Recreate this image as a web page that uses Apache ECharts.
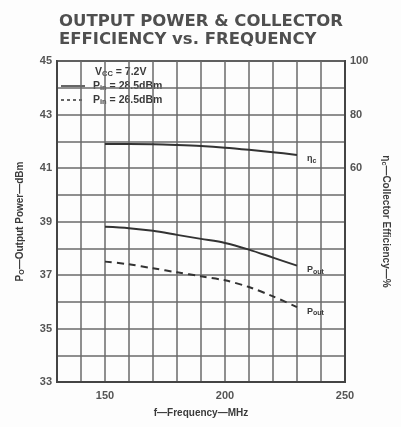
<!DOCTYPE html>
<html>
<head>
<meta charset="utf-8">
<script src="https://cdn.jsdelivr.net/npm/echarts@6/dist/echarts.min.js"></script>
<style>
  html, body { margin: 0; padding: 0; background: #fdfdfd; }
  #main { width: 401px; height: 427px; }
</style>
</head>
<body>
<div id="main"></div>
<script>
// frequency points, MHz
const freq = [150, 160, 170, 180, 190, 200, 210, 220, 230];
// output power at Pin = 28.5 dBm (solid), dBm
const poutHigh = [38.8, 38.75, 38.65, 38.5, 38.35, 38.2, 37.95, 37.65, 37.35];
// output power at Pin = 26.5 dBm (dashed), dBm
const poutLow = [37.5, 37.4, 37.25, 37.1, 36.95, 36.8, 36.55, 36.2, 35.8];
// collector efficiency, %
const effic = [69.0, 69.0, 68.9, 68.6, 68.2, 67.6, 66.8, 65.9, 64.9];

const xTickLabels = [150, 200, 250];
const leftTickLabels = [33, 35, 37, 39, 41, 43, 45];
const rightTickLabels = [60, 80, 100];

const ink = '#3a3a3a';
const gridInk = '#6a6a6a';
const font = 'Liberation Sans';

function pairs(ys) {
  return freq.map(function (f, i) { return [f, ys[i]]; });
}

const subRich = {
  sub: { fontSize: 7, verticalAlign: 'bottom', padding: [4, 0, 0, 0], color: ink, fontFamily: font, fontWeight: 'bold' }
};
const legRich = {
  sub: { fontSize: 7.5, verticalAlign: 'bottom', padding: [4, 0, 0, 0], color: ink, fontFamily: font, fontWeight: 'bold' }
};

const myChart = echarts.init(document.getElementById('main'));

myChart.setOption({
  backgroundColor: '#fdfdfd',
  animation: false,
  title: {
    text: 'OUTPUT POWER & COLLECTOR\nEFFICIENCY vs. FREQUENCY',
    left: 54,
    top: 8,
    textStyle: {
      fontFamily: 'DejaVu Sans',
      fontSize: 16.5,
      fontWeight: 'bold',
      color: '#4f4f4f',
      lineHeight: 18
    }
  },
  grid: {
    left: 57,
    right: 56,
    top: 61,
    bottom: 45,
    show: true,
    borderColor: '#444',
    borderWidth: 2
  },
  xAxis: {
    type: 'value',
    min: 130,
    max: 250,
    interval: 10,
    name: 'f\u2014Frequency\u2014MHz',
    nameLocation: 'middle',
    nameGap: 26,
    nameTextStyle: { fontFamily: font, fontSize: 10, fontWeight: 'bold', color: ink },
    axisLine: { show: true, onZero: false, lineStyle: { color: '#444', width: 2 } },
    axisTick: { show: false },
    axisLabel: {
      margin: 8,
      fontFamily: font,
      fontSize: 11,
      fontWeight: 'bold',
      color: '#555',
      formatter: function (v) { return xTickLabels.indexOf(v) >= 0 ? String(v) : ''; }
    },
    splitLine: { show: true, lineStyle: { color: gridInk, width: 1.5 } }
  },
  yAxis: [
    {
      type: 'value',
      min: 33,
      max: 45,
      interval: 1,
      name: 'P{sub|O}\u2014Output Power\u2014dBm',
      nameLocation: 'middle',
      nameGap: 31,
      nameTextStyle: { fontFamily: font, fontSize: 10, fontWeight: 'bold', color: ink, rich: subRich },
      axisLine: { show: true, onZero: false, lineStyle: { color: '#444', width: 2 } },
      axisTick: { show: false },
      axisLabel: {
        margin: 5,
        fontFamily: font,
        fontSize: 11,
        fontWeight: 'bold',
        color: '#555',
        formatter: function (v) { return leftTickLabels.indexOf(v) >= 0 ? String(v) : ''; }
      },
      splitLine: { show: true, lineStyle: { color: gridInk, width: 1.5 } }
    },
    {
      type: 'value',
      min: -20,
      max: 100,
      interval: 10,
      position: 'right',
      name: '\u03b7{sub|c}\u2014Collector Efficiency\u2014%',
      nameLocation: 'middle',
      nameGap: 35,
      nameRotate: -90,
      nameTextStyle: { fontFamily: font, fontSize: 10, fontWeight: 'bold', color: ink, rich: subRich },
      axisLine: { show: true, onZero: false, lineStyle: { color: '#444', width: 2 } },
      axisTick: { show: false },
      axisLabel: {
        margin: 5,
        fontFamily: font,
        fontSize: 11,
        fontWeight: 'bold',
        color: '#555',
        formatter: function (v) { return rightTickLabels.indexOf(v) >= 0 ? String(v) : ''; }
      },
      splitLine: { show: false }
    }
  ],
  series: [
    {
      name: 'Efficiency',
      type: 'line',
      yAxisIndex: 1,
      data: pairs(effic),
      symbol: 'none',
      smooth: 0.3,
      lineStyle: { color: '#333', width: 2 },
      endLabel: {
        show: true,
        formatter: '\u03b7{sub|c}',
        offset: [2, 4],
        fontFamily: font,
        fontSize: 9,
        fontWeight: 'bold',
        color: ink,
        rich: subRich
      }
    },
    {
      name: 'Pin 28.5dBm',
      type: 'line',
      data: pairs(poutHigh),
      symbol: 'none',
      smooth: 0.3,
      lineStyle: { color: '#333', width: 2 },
      endLabel: {
        show: true,
        formatter: 'P{sub|out}',
        offset: [2, 4],
        fontFamily: font,
        fontSize: 9,
        fontWeight: 'bold',
        color: ink,
        rich: subRich
      }
    },
    {
      name: 'Pin 26.5dBm',
      type: 'line',
      data: pairs(poutLow),
      symbol: 'none',
      smooth: 0.3,
      lineStyle: { color: '#333', width: 2, type: [7, 5] },
      endLabel: {
        show: true,
        formatter: 'P{sub|out}',
        offset: [2, 4],
        fontFamily: font,
        fontSize: 9,
        fontWeight: 'bold',
        color: ink,
        rich: subRich
      }
    }
  ],
  graphic: [
    {
      type: 'group',
      left: 58,
      top: 62,
      z: 100,
      children: [
        {
          type: 'rect',
          shape: { x: 0, y: 0, width: 118, height: 51 },
          style: { fill: '#fdfdfd' }
        },
        {
          type: 'text',
          x: 37,
          y: 4,
          style: {
            text: 'V{sub|CC} = 7.2V',
            fontFamily: font,
            fontSize: 10.5,
            fontWeight: 'bold',
            fill: ink,
            rich: legRich
          }
        },
        {
          type: 'line',
          shape: { x1: 3, y1: 24, x2: 27, y2: 24 },
          style: { stroke: '#333', lineWidth: 1.5 }
        },
        {
          type: 'text',
          x: 35,
          y: 18,
          style: {
            text: 'P{sub|in} = 28.5dBm',
            fontFamily: font,
            fontSize: 10.5,
            fontWeight: 'bold',
            fill: ink,
            rich: legRich
          }
        },
        {
          type: 'line',
          shape: { x1: 3, y1: 38, x2: 27, y2: 38 },
          style: { stroke: '#333', lineWidth: 1.5, lineDash: [3, 3] }
        },
        {
          type: 'text',
          x: 35,
          y: 32,
          style: {
            text: 'P{sub|in} = 26.5dBm',
            fontFamily: font,
            fontSize: 10.5,
            fontWeight: 'bold',
            fill: ink,
            rich: legRich
          }
        }
      ]
    }
  ]
});
</script>
</body>
</html>
